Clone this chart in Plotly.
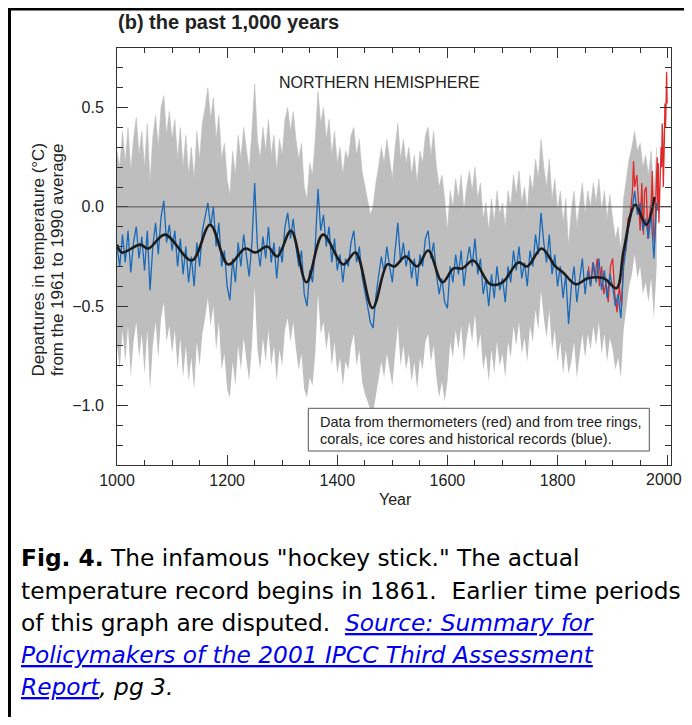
import plotly.graph_objects as go

# ---------------- data ----------------
years5 = list(range(1000, 1985, 5))

blue_recon = [
    -0.20,-0.30,-0.14,-0.28,-0.12,-0.33,-0.18,-0.10,-0.26,-0.15,
    -0.32,-0.12,-0.42,-0.20,-0.08,-0.24,-0.05,0.03,-0.18,-0.09,
    -0.22,-0.12,-0.30,-0.16,-0.34,-0.20,-0.38,-0.25,-0.40,-0.18,
    -0.30,-0.12,-0.05,0.02,-0.10,0.00,-0.20,-0.08,-0.30,-0.22,
    -0.40,-0.47,-0.26,-0.38,-0.18,-0.30,-0.14,-0.26,-0.35,-0.18,
    0.12,-0.20,-0.30,-0.15,-0.26,-0.10,-0.28,-0.18,-0.36,-0.20,
    -0.28,-0.10,-0.03,-0.16,-0.06,-0.20,-0.30,-0.22,-0.44,-0.50,
    -0.32,-0.38,-0.20,0.09,-0.12,-0.04,-0.20,-0.10,-0.28,-0.16,
    -0.32,-0.24,-0.38,-0.26,-0.30,-0.18,-0.12,-0.28,-0.20,-0.35,
    -0.42,-0.50,-0.58,-0.61,-0.45,-0.36,-0.25,-0.33,-0.20,-0.30,
    -0.38,-0.22,-0.08,-0.28,-0.18,-0.30,-0.22,-0.36,-0.26,-0.40,
    -0.24,-0.30,-0.16,-0.12,-0.26,-0.18,-0.34,-0.44,-0.36,-0.48,
    -0.51,-0.30,-0.38,-0.24,-0.34,-0.22,-0.40,-0.28,-0.20,-0.30,
    -0.16,-0.34,-0.26,-0.44,-0.36,-0.50,-0.34,-0.46,-0.30,-0.42,
    -0.36,-0.48,-0.30,-0.38,-0.22,-0.32,-0.20,-0.36,-0.28,-0.40,
    -0.22,-0.30,-0.14,-0.24,-0.03,-0.18,-0.28,-0.14,-0.34,-0.24,
    -0.40,-0.30,-0.46,-0.34,-0.59,-0.40,-0.30,-0.48,-0.36,-0.26,
    -0.44,-0.32,-0.40,-0.28,-0.38,-0.26,-0.42,-0.32,-0.46,-0.34,
    -0.40,-0.50,-0.44,-0.56,-0.30,-0.20,-0.08,-0.02,0.08,-0.04,
    0.02,-0.12,-0.06,-0.16,-0.04,-0.26,0.02,
]

band_upper = [
    0.28,0.20,0.38,0.22,0.40,0.18,0.34,0.45,0.26,0.38,
    0.20,0.42,0.12,0.35,0.46,0.30,0.50,0.56,0.36,0.48,
    0.34,0.44,0.24,0.40,0.20,0.36,0.16,0.30,0.14,0.38,
    0.24,0.42,0.50,0.60,0.44,0.55,0.34,0.46,0.24,0.32,
    0.14,0.06,0.28,0.16,0.36,0.24,0.40,0.28,0.18,0.38,
    0.62,0.34,0.24,0.40,0.28,0.44,0.26,0.36,0.18,0.34,
    0.26,0.44,0.50,0.38,0.48,0.34,0.24,0.32,0.10,0.04,
    0.22,0.16,0.34,0.58,0.42,0.50,0.34,0.44,0.26,0.38,
    0.22,0.30,0.16,0.28,0.24,0.36,0.40,0.26,0.34,0.18,
    0.10,0.04,-0.04,0.00,0.12,0.20,0.30,0.22,0.34,0.24,
    0.14,0.30,0.42,0.24,0.34,0.22,0.30,0.16,0.26,0.12,
    0.28,0.22,0.36,0.40,0.26,0.38,0.20,0.10,0.16,0.04,
    -0.12,0.08,0.00,0.14,0.04,0.16,-0.02,0.10,0.18,0.08,
    0.20,0.04,0.12,-0.06,0.02,-0.12,0.04,-0.08,0.08,-0.04,
    0.02,-0.10,0.08,0.00,0.16,0.06,0.18,0.02,0.10,-0.02,
    0.16,0.08,0.24,0.14,0.34,0.20,0.10,0.24,0.04,0.14,
    -0.02,0.08,-0.08,0.04,-0.20,-0.02,0.08,-0.10,0.02,0.12,
    -0.04,0.08,0.00,0.12,0.02,0.14,-0.02,0.08,-0.06,0.06,
    -0.06,-0.16,-0.10,-0.22,0.04,0.14,0.24,0.30,0.38,0.28,
    0.32,0.20,0.26,0.16,0.28,0.06,0.30,
]

band_lower = [
    -0.70,-0.82,-0.62,-0.78,-0.60,-0.85,-0.68,-0.58,-0.76,-0.64,
    -0.84,-0.62,-0.92,-0.70,-0.58,-0.76,-0.56,-0.48,-0.68,-0.60,
    -0.74,-0.62,-0.82,-0.66,-0.86,-0.70,-0.88,-0.76,-0.92,-0.68,
    -0.80,-0.64,-0.56,-0.46,-0.60,-0.50,-0.72,-0.58,-0.82,-0.74,
    -0.92,-0.96,-0.78,-0.90,-0.70,-0.82,-0.66,-0.78,-0.88,-0.70,
    -0.40,-0.72,-0.82,-0.66,-0.78,-0.62,-0.80,-0.70,-0.88,-0.72,
    -0.80,-0.62,-0.56,-0.68,-0.58,-0.72,-0.82,-0.74,-0.92,-0.96,
    -0.86,-0.90,-0.74,-0.44,-0.64,-0.58,-0.72,-0.62,-0.80,-0.68,
    -0.84,-0.76,-0.90,-0.78,-0.82,-0.70,-0.64,-0.80,-0.72,-0.88,
    -0.94,-0.98,-1.02,-1.04,-0.96,-0.88,-0.78,-0.86,-0.74,-0.82,
    -0.90,-0.74,-0.60,-0.80,-0.70,-0.82,-0.74,-0.88,-0.78,-0.92,
    -0.76,-0.82,-0.68,-0.64,-0.78,-0.70,-0.86,-0.96,-0.88,-0.98,
    -0.88,-0.68,-0.76,-0.62,-0.72,-0.60,-0.78,-0.66,-0.58,-0.68,
    -0.54,-0.72,-0.64,-0.82,-0.74,-0.88,-0.72,-0.84,-0.68,-0.80,
    -0.74,-0.86,-0.68,-0.76,-0.60,-0.70,-0.58,-0.74,-0.66,-0.78,
    -0.60,-0.68,-0.52,-0.62,-0.42,-0.56,-0.66,-0.52,-0.72,-0.62,
    -0.78,-0.68,-0.84,-0.72,-0.84,-0.78,-0.68,-0.86,-0.74,-0.64,
    -0.76,-0.64,-0.72,-0.60,-0.70,-0.58,-0.74,-0.64,-0.78,-0.66,
    -0.72,-0.82,-0.76,-0.86,-0.62,-0.52,-0.40,-0.34,-0.24,-0.36,
    -0.30,-0.44,-0.38,-0.48,-0.36,-0.56,-0.30,
]

smooth_years = [1000,1009,1042,1057,1087,1136,1169,1202,1233,1251,1273,1291,1316,1344,
                1374,1411,1433,1464,1491,1504,1524,1545,1565,1591,1611,1627,1647,1678,
                1700,1729,1745,1771,1796,1810,1833,1855,1884,1907,1920,1941,1961,1976]
smooth_vals = [-0.19,-0.23,-0.19,-0.21,-0.14,-0.27,-0.09,-0.29,-0.21,-0.23,-0.20,-0.25,-0.12,-0.38,
               -0.14,-0.29,-0.23,-0.51,-0.29,-0.30,-0.25,-0.30,-0.22,-0.38,-0.31,-0.31,-0.27,-0.39,
               -0.38,-0.28,-0.30,-0.21,-0.30,-0.33,-0.39,-0.36,-0.36,-0.41,-0.22,0.01,-0.09,0.05]

red_years = [1856,1860,1864,1868,1872,1876,1880,1884,1888,1892,1896,1900,1904,1908,1912,1916,
             1920,1924,1928,1932,1936,1938,1940,1944,1948,1950,1953,1956,1958,1961,1964,1967,
             1970,1972,1974,1976,1978,1980,1981,1982,1983,1984,1985,1986,1987,1988,1989,1990,
             1991,1992,1993,1994,1995,1996,1997,1998,1999]
red_vals = [-0.30,-0.40,-0.28,-0.36,-0.26,-0.40,-0.30,-0.44,-0.38,-0.48,-0.30,-0.26,-0.44,-0.53,-0.40,-0.50,
            -0.26,-0.22,-0.06,-0.04,0.08,0.23,0.10,0.16,-0.02,-0.12,0.12,-0.14,0.08,0.10,-0.16,-0.04,
            0.02,0.18,-0.12,-0.18,0.00,0.14,0.25,-0.02,0.22,-0.08,0.02,0.12,0.27,0.30,0.20,0.42,
            0.36,0.10,0.18,0.34,0.52,0.40,0.50,0.68,0.52]

x_ticks = [1000, 1200, 1400, 1600, 1800, 2000]
x_tick_labels = ["1000", "1200", "1400", "1600", "1800", "2000"]
y_ticks = [-1.0, -0.5, 0.0, 0.5]

# ---------------- layout helpers (page pixel coordinates) ----------------
PAGE_W, PAGE_H = 692, 725
OFF = 8                                   # default body margin of the html page
W, H = PAGE_W - 2 * OFF, PAGE_H - 2 * OFF # so the page is exactly the window size
L, R, T, B = 117, 671, 48, 465            # plot area, page pixels


def px(x):
    return (x - L) / (R - L)


def py(y):
    return (B - y) / (B - T)


CHART_FONT = "Liberation Sans, Arial, Helvetica, sans-serif"
CAP_FONT = "DejaVu Sans, Verdana, sans-serif"

fig = go.Figure()

fig.add_trace(go.Scatter(x=years5, y=band_lower, mode="lines",
                         line=dict(width=0, color="#bebebe"), hoverinfo="skip", showlegend=False))
fig.add_trace(go.Scatter(x=years5, y=band_upper, mode="lines", fill="tonexty",
                         fillcolor="#bebebe", line=dict(width=0.6, color="#bebebe"),
                         hoverinfo="skip", showlegend=False))
fig.add_trace(go.Scatter(x=red_years, y=red_vals, mode="lines",
                         line=dict(width=1.3, color="#e02a2a"), showlegend=False))
fig.add_trace(go.Scatter(x=years5, y=blue_recon, mode="lines",
                         line=dict(width=1.3, color="#1769b9"), showlegend=False))
fig.add_trace(go.Scatter(x=smooth_years, y=smooth_vals, mode="lines", line_shape="spline",
                         line=dict(width=2.6, color="#1c1c1c", smoothing=1.0), showlegend=False))

axis_common = dict(showline=True, linecolor="#333", linewidth=1, mirror="ticks",
                   ticks="inside", tickcolor="#333", tickwidth=1, showgrid=False,
                   zeroline=False,
                   tickfont=dict(family=CHART_FONT, size=16, color="#222"))

# the last label ("2000") would stick out past the page edge, so it is written
# as an annotation pinned to the right edge instead
fig.update_xaxes(range=[1000, 2006], tickvals=x_ticks,
                 ticktext=x_tick_labels[:-1] + [""],
                 ticklen=10, ticklabelstandoff=1,
                 minor=dict(dtick=50, tick0=1000, ticks="inside", ticklen=5,
                            tickcolor="#333", tickwidth=1, showgrid=False),
                 **axis_common)
fig.update_yaxes(range=[-1.3, 0.8], tickvals=y_ticks,
                 ticktext=["\u22121.0", "\u22120.5", "0.0", "0.5"],
                 ticklen=11, ticklabelstandoff=9,
                 minor=dict(dtick=0.1, tick0=0, ticks="inside", ticklen=6,
                            tickcolor="#333", tickwidth=1, showgrid=False),
                 **axis_common)

shapes = [
    # zero line
    dict(type="line", xref="paper", yref="y", x0=0, x1=1, y0=0, y1=0,
         line=dict(color="#555", width=1), layer="above"),
    # legend box
    dict(type="rect", xref="paper", yref="paper", x0=px(308.3), x1=px(649.3),
         y0=py(451), y1=py(408.3), line=dict(color="#555", width=1),
         fillcolor="white", layer="above"),
    # outer frame (top + left)
    dict(type="line", xref="paper", yref="paper", x0=px(8), x1=px(684), y0=py(9), y1=py(9),
         line=dict(color="black", width=3)),
    dict(type="line", xref="paper", yref="paper", x0=px(9.5), x1=px(9.5), y0=py(8), y1=py(717),
         line=dict(color="black", width=3)),
]

ann = []
ann.append(dict(text=x_tick_labels[-1], x=px(684), y=py(479.5), xref="paper", yref="paper",
                xanchor="right", yanchor="middle", showarrow=False,
                font=dict(family=CHART_FONT, size=16, color="#222")))
ann.append(dict(text="<b>(b) the past 1,000 years</b>", x=px(116), y=py(22), xref="paper",
                yref="paper", xanchor="left", yanchor="middle", showarrow=False,
                font=dict(family=CHART_FONT, size=20, color="#222")))
ann.append(dict(text="NORTHERN HEMISPHERE", x=px(379.5), y=py(82), xref="paper", yref="paper",
                xanchor="center", yanchor="middle", showarrow=False,
                font=dict(family=CHART_FONT, size=16, color="#222")))
ann.append(dict(text="Data from thermometers (red) and from tree rings,", x=px(318), y=py(421.7),
                xref="paper", yref="paper", xanchor="left", yanchor="middle", showarrow=False,
                font=dict(family=CHART_FONT, size=14.5, color="#222")))
ann.append(dict(text="corals, ice cores and historical records (blue).", x=px(318), y=py(439.3),
                xref="paper", yref="paper", xanchor="left", yanchor="middle", showarrow=False,
                font=dict(family=CHART_FONT, size=14.5, color="#222")))
ann.append(dict(text="Departures in temperature (\u00b0C)", x=px(38.5), y=py(260), xref="paper",
                yref="paper", xanchor="center", yanchor="middle", textangle=-90, showarrow=False,
                font=dict(family=CHART_FONT, size=17, color="#222")))
ann.append(dict(text="from the 1961 to 1990 average", x=px(58), y=py(260), xref="paper",
                yref="paper", xanchor="center", yanchor="middle", textangle=-90, showarrow=False,
                font=dict(family=CHART_FONT, size=17, color="#222")))
ann.append(dict(text="Year", x=px(395), y=py(500), xref="paper", yref="paper",
                xanchor="center", yanchor="middle", showarrow=False,
                font=dict(family=CHART_FONT, size=16, color="#222")))

link = "<span style='color:#0000ee'><i><u>{}</u></i></span>"
caption_lines = [
    "<b>Fig. 4.</b> The infamous \"hockey stick.\" The actual",
    "temperature record begins in 1861.  Earlier time periods",
    "of this graph are disputed.  " + link.format("Source: Summary for"),
    link.format("Policymakers of the 2001 IPCC Third Assessment"),
    link.format("Report") + "<i>, pg 3.</i>",
]
caption_y = [557, 590, 622, 654, 686]
for line, yy in zip(caption_lines, caption_y):
    ann.append(dict(text=line, x=px(19), y=py(yy), xref="paper", yref="paper",
                    xanchor="left", yanchor="middle", showarrow=False,
                    font=dict(family=CAP_FONT, size=23.3, color="black")))

fig.update_layout(width=W, height=H, autosize=False,
                  margin=dict(l=L - OFF, r=(PAGE_W - OFF) - R, t=T - OFF,
                              b=(PAGE_H - OFF) - B, pad=0),
                  plot_bgcolor="white", paper_bgcolor="white",
                  shapes=shapes, annotations=ann, showlegend=False)

fig.write_html("out.html")
